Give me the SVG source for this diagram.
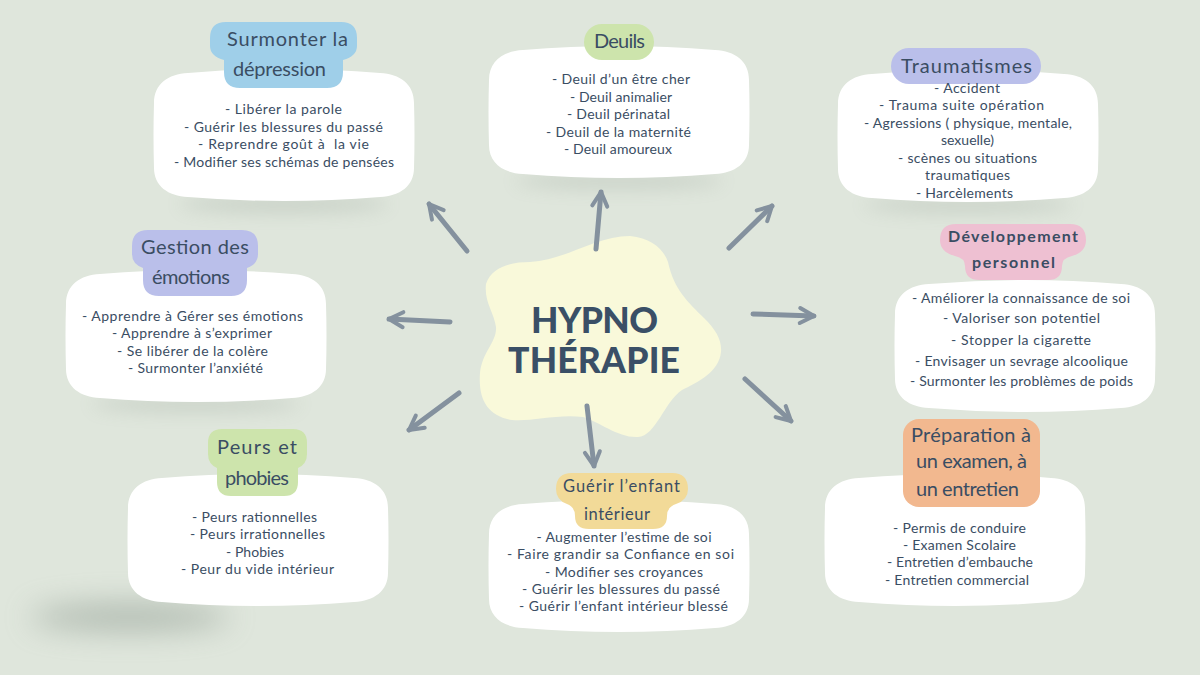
<svg xmlns="http://www.w3.org/2000/svg" width="1200" height="675" viewBox="0 0 1200 675">
<style>
text{font-family:"Lato","Open Sans","Liberation Sans",sans-serif;fill:#3a4d63;text-anchor:middle}
.b{font-size:14px}
.t{font-size:20px}
.g{font-size:16.5px}
.d{font-size:16px;font-weight:700}
.h{font-size:35.5px;font-weight:900;fill:#3a4f66}
.card{fill:#fff}
.shadow{fill:#7d8a80;opacity:.22;filter:url(#blur)}
.arrow{fill:none;stroke:#84919e;stroke-width:5;stroke-linecap:round;marker-end:url(#head)}
</style>
<defs>
<filter id="blur" x="-30%" y="-200%" width="160%" height="500%"><feGaussianBlur stdDeviation="9"/></filter>
<filter id="blur2" x="-50%" y="-300%" width="200%" height="700%"><feGaussianBlur stdDeviation="15"/></filter>
<marker id="head" markerUnits="userSpaceOnUse" markerWidth="30" markerHeight="30" refX="23" refY="15" orient="auto">
<path d="M9,7.5 L23,15 L9,22.5" fill="none" stroke="#84919e" stroke-width="4" stroke-linecap="round" stroke-linejoin="round"/>
</marker>
<path id="c" d="M0,33 C0,14 14,4 34,3 Q130,-5 226,3 C246,4 260,14 260,33 Q261,65 260,98 C260,116 246,126 226,127 Q130,135 34,127 C14,126 0,116 0,98 Q-1,65 0,33 Z"/>
</defs>
<rect width="1200" height="675" fill="#dfe6dc"/>
<g id="shadows">
<ellipse class="shadow" cx="284" cy="204" rx="105" ry="9"/>
<ellipse class="shadow" cx="619" cy="181" rx="105" ry="8"/>
<ellipse class="shadow" cx="968" cy="205" rx="105" ry="8"/>
<ellipse class="shadow" cx="196" cy="404" rx="105" ry="8"/>
<ellipse cx="130" cy="617" rx="100" ry="13" fill="#7d8a80" opacity=".5" filter="url(#blur2)"/>
</g>
<g id="center">
<path d="M630,236 C652,238 664,250 668,262 C674,290 688,302 704,318 C716,330 722,340 721,352 C719,372 698,382 682,390 C664,402 656,436 638,437 C618,438 600,422 583,417 C556,414 530,422 512,420 C488,416 478,400 480,373 C482,352 497,342 496,327 C494,312 484,302 486,284 C492,266 512,262 530,262 C566,260 596,236 630,236 Z" fill="#f9f9da"/>
<text class="h" x="594.5" y="333" textLength="127">HYPNO</text>
<text class="h" x="594" y="373" textLength="172">THÉRAPIE</text>
</g>
<g id="connectors">
<path class="arrow" d="M467,251 L429,204"/>
<path class="arrow" d="M596,249 L601,192"/>
<path class="arrow" d="M729,248 L772,206"/>
<path class="arrow" d="M753,314 L814,316"/>
<path class="arrow" d="M745,379 L791,421"/>
<path class="arrow" d="M587,406 L594,466"/>
<path class="arrow" d="M459,393 L409,430"/>
<path class="arrow" d="M450,322 L389,319"/>
</g>
<g id="n-depression">
<use href="#c" x="154" y="70" class="card"/>
<path d="M226,22 H341 Q357,22 357,38 V46 Q357,56 343,60 V72 Q343,88 327,88 H240 Q224,88 224,72 V60 Q210,56 210,46 V38 Q210,22 226,22 Z" fill="#9fcfe9"/>
<text class="t" x="287.5" y="46" textLength="121">Surmonter la</text>
<text class="t" x="279.5" y="76" textLength="93">dépression</text>
<text class="b" x="283.5" y="114" textLength="117">- Libérer la parole</text>
<text class="b" x="283.5" y="132" textLength="199">- Guérir les blessures du passé</text>
<text class="b" x="283.5" y="149" textLength="171" xml:space="preserve">- Reprendre goût à  la vie</text>
<text class="b" x="284" y="167" textLength="220">- Modifier ses schémas de pensées</text>
</g>
<g id="n-deuils">
<use href="#c" x="489" y="47" class="card"/>
<rect x="584" y="24" width="70" height="36" rx="18" fill="#cde4ac"/>
<text class="t" x="619.5" y="48" textLength="51">Deuils</text>
<text class="b" x="621" y="84" textLength="138">- Deuil d’un être cher</text>
<text class="b" x="621" y="102" textLength="102">- Deuil animalier</text>
<text class="b" x="618.5" y="119" textLength="103">- Deuil périnatal</text>
<text class="b" x="618.5" y="137" textLength="145">- Deuil de la maternité</text>
<text class="b" x="618" y="154" textLength="108">- Deuil amoureux</text>
</g>
<g id="n-traumatismes">
<use href="#c" x="838" y="71" class="card"/>
<rect x="891" y="48" width="150" height="36" rx="18" fill="#babfea"/>
<text class="t" x="966.5" y="73" textLength="131">Traumatismes</text>
<text class="b" x="967" y="93" textLength="66">- Accident</text>
<text class="b" x="961.5" y="110" textLength="165">- Trauma suite opération</text>
<text class="b" x="968" y="128" textLength="208">- Agressions ( physique, mentale,</text>
<text class="b" x="967.5" y="145" textLength="53">sexuelle)</text>
<text class="b" x="967.5" y="163" textLength="139">- scènes ou situations</text>
<text class="b" x="967.5" y="180" textLength="85">traumatiques</text>
<text class="b" x="964.5" y="198" textLength="97">- Harcèlements</text>
</g>
<g id="n-developpement">
<use href="#c" x="895" y="281" class="card"/>
<path d="M956,224 H1070 Q1086,224 1086,240 Q1086,252 1072,256 Q1062,258 1062,266 Q1062,280 1048,280 H979 Q965,280 965,266 Q965,258 955,256 Q940,252 940,240 Q940,224 956,224 Z" fill="#eec0d2"/>
<text class="d" x="1013" y="242" textLength="130">Développement</text>
<text class="d" x="1013.5" y="268" textLength="83">personnel</text>
<text class="b" x="1021" y="303" textLength="218">- Améliorer la connaissance de soi</text>
<text class="b" x="1021.5" y="323" textLength="157">- Valoriser son potentiel</text>
<text class="b" x="1021" y="345" textLength="140">- Stopper la cigarette</text>
<text class="b" x="1021.5" y="366" textLength="213">- Envisager un sevrage alcoolique</text>
<text class="b" x="1021.5" y="386" textLength="223">- Surmonter les problèmes de poids</text>
</g>
<g id="n-preparation">
<use href="#c" x="825" y="475" class="card"/>
<rect x="903" y="419" width="137" height="88" rx="16" fill="#f2b88f"/>
<text class="t" x="971" y="442" textLength="120">Préparation à</text>
<text class="t" x="971.5" y="468" textLength="111">un examen, à</text>
<text class="t" x="967.5" y="496" textLength="103">un entretien</text>
<text class="b" x="959.5" y="533" textLength="133">- Permis de conduire</text>
<text class="b" x="959.5" y="550" textLength="113">- Examen Scolaire</text>
<text class="b" x="960" y="567" textLength="146">- Entretien d’embauche</text>
<text class="b" x="957" y="585" textLength="144">- Entretien commercial</text>
</g>
<g id="n-enfant">
<use href="#c" x="489" y="501" class="card"/>
<path d="M572,473 H672 Q688,473 688,489 Q688,500 676,504 Q667,507 667,516 Q667,529 653,529 H589 Q575,529 575,516 Q575,507 567,504 Q556,500 556,489 Q556,473 572,473 Z" fill="#f2da98"/>
<text class="g" x="621.5" y="492" textLength="117">Guérir l’enfant</text>
<text class="g" x="617" y="520" textLength="66">intérieur</text>
<text class="b" x="624" y="542" textLength="175">- Augmenter l’estime de soi</text>
<text class="b" x="620.5" y="559" textLength="227">- Faire grandir sa Confiance en soi</text>
<text class="b" x="624" y="577" textLength="158">- Modifier ses croyances</text>
<text class="b" x="621" y="594" textLength="198">- Guérir les blessures du passé</text>
<text class="b" x="623.5" y="611" textLength="209">- Guérir l’enfant intérieur blessé</text>
</g>
<g id="n-peurs">
<use href="#c" x="128" y="475" class="card"/>
<path d="M222,429 H293 Q307,429 307,443 V454 Q307,464 298,468 V482 Q298,496 284,496 H231 Q217,496 217,482 V468 Q208,464 208,454 V443 Q208,429 222,429 Z" fill="#cde4ac"/>
<text class="t" x="257" y="454" textLength="80">Peurs et</text>
<text class="t" x="257" y="485" textLength="64">phobies</text>
<text class="b" x="254.5" y="522" textLength="125">- Peurs rationnelles</text>
<text class="b" x="257.5" y="539" textLength="135">- Peurs irrationnelles</text>
<text class="b" x="255" y="557" textLength="58">- Phobies</text>
<text class="b" x="257.5" y="574" textLength="153">- Peur du vide intérieur</text>
</g>
<g id="n-emotions">
<use href="#c" x="66" y="271" class="card"/>
<path d="M148,230 H242 Q258,230 258,246 V254 Q258,264 247,268 V280 Q247,296 231,296 H159 Q143,296 143,280 V268 Q132,264 132,254 V246 Q132,230 148,230 Z" fill="#babfea"/>
<text class="t" x="195" y="254" textLength="108">Gestion des</text>
<text class="t" x="191" y="284" textLength="78">émotions</text>
<text class="b" x="192.5" y="321" textLength="221">- Apprendre à Gérer ses émotions</text>
<text class="b" x="192" y="338" textLength="160">- Apprendre à s’exprimer</text>
<text class="b" x="192.5" y="356" textLength="151">- Se libérer de la colère</text>
<text class="b" x="195.5" y="373" textLength="135">- Surmonter l’anxiété</text>
</g>
</svg>
